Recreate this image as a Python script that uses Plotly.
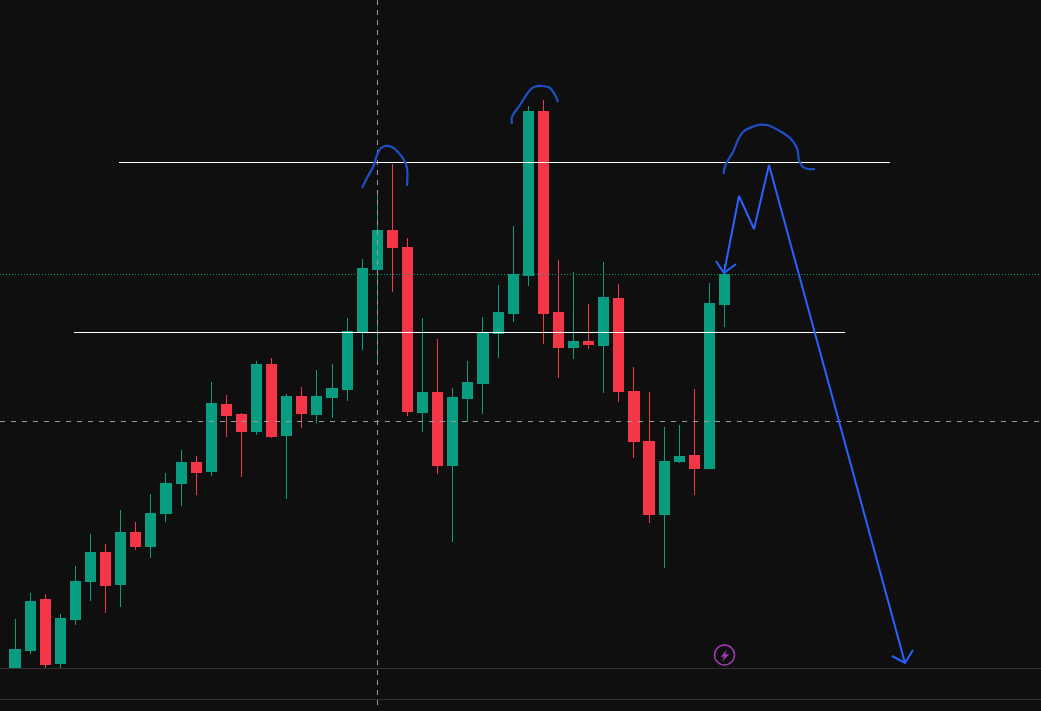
import plotly.graph_objects as go

# Candle values (price units)
opens = [43,61,112,48,92,130,159,127,179,165,198,228,249,240,307,297,280,347,276,315,297,314,322,379,442,481,464,299,319,246,313,328,378,398,436,600,399,364,370,366,413,320,270,197,250,256,243,407]
highs = [92,118,117,97,145,177,167,201,189,217,238,261,255,329,316,298,350,353,317,324,341,347,393,452,521,547,473,393,372,323,350,394,426,485,605,611,451,439,407,449,427,344,319,284,286,322,428,447]
lows = [43,57,43,43,86,110,98,104,161,153,189,205,216,235,274,234,276,273,212,283,288,293,310,361,351,419,295,279,237,169,289,297,353,389,425,367,333,352,362,318,309,253,188,143,248,216,243,384]
closes = [62,110,47,93,130,159,126,179,165,198,228,249,239,308,296,280,347,275,315,298,315,323,380,443,481,464,300,319,246,314,329,379,399,437,600,398,364,370,367,414,320,270,197,250,255,243,408,437]
bars = list(range(len(opens)))

# Levels and hand drawings in screen units: (x, height above the bottom edge)
H = 711
upper_level = ([119, 890], [548.5, 548.5])
lower_level = ([74, 845], [378.5, 378.5])
dotted_level = ([0, 1041], [436.5, 436.5])
dashed_level = ([0, 1041], [289.5, 289.5])
crosshair = ([377.5, 377.5], [711, 6])
pane_line_1 = ([0, 1041], [42.5, 42.5])
pane_line_2 = ([0, 1041], [11.5, 11.5])
scribble_1 = ([362,368,373,377,380,385,392,398,404,407,407],
              [523,535,544,556,562,565,564,559,551,543,525])
scribble_2 = ([512,512,520,530,534,542,550,555,558],
              [587,594,606,621,624,625,623,616,609])
scribble_3 = ([724,724,727,733,738,743,752,758,767,778,790,797,799,803,808,815],
              [537,541,549,559,571,579,584,586,586,581,573,563,551,544,542,542])
path_line = ([724,739,754,769,905], [438,515,482,546,48])
head_1 = ([716,724,736], [450,438,447])
head_2 = ([892,905,913], [55,48,61])
bolt = ([726.3,721,724.3,722.7,729,725,726.3], [60.3,54.3,54.7,50.3,56.7,56.3,60.3])

BG = "#0f0f0f"
GREEN = "#089c80"
RED = "#f53648"
SCRIBBLE = "#1f4fc8"
BLUE = "#2962ff"

fig = go.Figure()
fig.add_trace(go.Candlestick(
    x=bars, open=opens, high=highs, low=lows, close=closes,
    whiskerwidth=0,
    increasing=dict(line=dict(color=GREEN, width=1), fillcolor=GREEN),
    decreasing=dict(line=dict(color=RED, width=1), fillcolor=RED),
    xaxis="x", yaxis="y", showlegend=False, hoverinfo="skip",
))


def add_line(pts, color, width, dash="solid", shape="linear"):
    fig.add_trace(go.Scatter(
        x=pts[0], y=pts[1], mode="lines", xaxis="x2", yaxis="y",
        line=dict(color=color, width=width, dash=dash, shape=shape),
        showlegend=False, hoverinfo="skip",
    ))


add_line(pane_line_1, "#303030", 1)
add_line(pane_line_2, "#303030", 1)
add_line(dotted_level, GREEN, 1, "1px,2px")
add_line(dashed_level, "#9a9a9a", 1, "5px,6px")
add_line(crosshair, "#9a9a9a", 1, "5px,5px")
add_line(upper_level, "#ffffff", 1)
add_line(lower_level, "#ffffff", 1)
add_line(scribble_1, SCRIBBLE, 2.2, shape="spline")
add_line(scribble_2, SCRIBBLE, 2.2, shape="spline")
add_line(scribble_3, SCRIBBLE, 2.2, shape="spline")
add_line(path_line, BLUE, 2)
add_line(head_1, BLUE, 2)
add_line(head_2, BLUE, 2)

fig.add_trace(go.Scatter(
    x=bolt[0], y=bolt[1], mode="lines", fill="toself", fillcolor="#a23bb5",
    line=dict(color="#a23bb5", width=0.5), xaxis="x2", yaxis="y",
    showlegend=False, hoverinfo="skip",
))
fig.add_shape(type="circle", xref="x2", yref="y", x0=714.5, x1=734.5, y0=46, y1=66,
              line=dict(color="#a23bb5", width=1.5), layer="above")

fig.update_layout(
    width=1041, height=711, autosize=False,
    margin=dict(l=0, r=0, t=0, b=0, pad=0),
    paper_bgcolor=BG, plot_bgcolor=BG,
    boxgap=0.33, boxgroupgap=0,
    showlegend=False,
    xaxis=dict(range=[-0.995, 67.965], visible=False, rangeslider=dict(visible=False),
               fixedrange=True),
    xaxis2=dict(range=[0, 1041], overlaying="x", side="top", visible=False, fixedrange=True),
    yaxis=dict(range=[0, H], visible=False, fixedrange=True),
)

fig.write_html(
    "out.html",
    config=dict(displayModeBar=False),
    post_script="document.body.style.margin='0';document.body.style.background='%s';"
                "document.documentElement.style.overflow='hidden';"
                "var s=document.createElement('style');"
                "s.textContent='.boxes path{shape-rendering:crispEdges}';"
                "document.head.appendChild(s);" % BG,
)
